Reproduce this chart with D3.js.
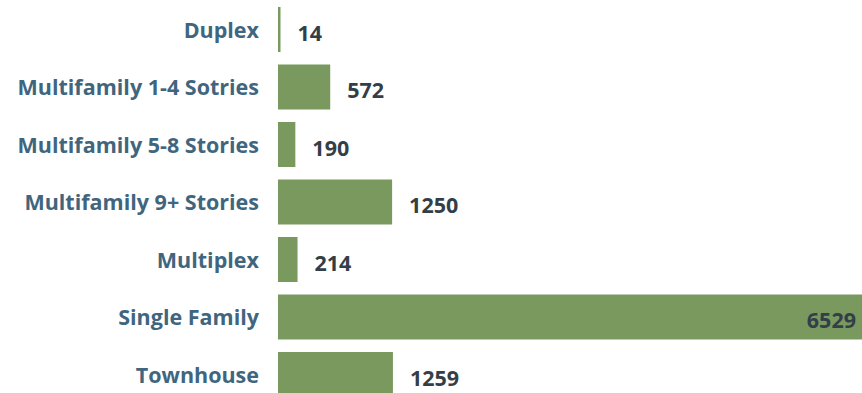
<!DOCTYPE html>
<html>
<head>
<meta charset="utf-8">
<script src="https://cdn.jsdelivr.net/npm/d3@7"></script>
<style>
  html, body { margin: 0; padding: 0; background: #ffffff; overflow: hidden; }
  svg { display: block; }
</style>
</head>
<body>
<svg id="chart" width="862" height="393"></svg>
<script>
const categories = ["Duplex", "Multifamily 1-4 Sotries", "Multifamily 5-8 Stories", "Multifamily 9+ Stories", "Multiplex", "Single Family", "Townhouse"];
const values = [14, 572, 190, 1250, 214, 6529, 1259];

const W = 862, H = 393;
const svg = d3.select("#chart");

const x = d3.scaleLinear().domain([0, 6529]).range([278, 874]);
const y = d3.scaleBand().domain(categories).range([0.75, 403.25]).paddingInner(0.2174).paddingOuter(0.1087);

const data = categories.map((c, i) => ({ c, v: values[i] }));

svg.append("g").selectAll("rect").data(data).join("rect")
  .attr("x", x(0))
  .attr("y", d => y(d.c))
  .attr("width", d => Math.max(2.5, x(d.v) - x(0)))
  .attr("height", y.bandwidth())
  .attr("fill", "#7a995f");

svg.append("g").selectAll("text").data(data).join("text")
  .attr("x", 259)
  .attr("y", d => y(d.c) + y.bandwidth() / 2 + 8)
  .attr("text-anchor", "end")
  .attr("font-family", "Open Sans, sans-serif")
  .attr("font-weight", 700)
  .attr("font-size", 21.5)
  .attr("fill", "#3f667e")
  .text(d => d.c);

svg.append("g").selectAll("text").data(data).join("text")
  .each(function(d) {
    const end = Math.max(x(d.v), x(0) + 2.5);
    const inside = end + 17 + 50 > W;
    d3.select(this)
      .attr("x", inside ? W - 6 : end + 17)
      .attr("text-anchor", inside ? "end" : "start");
  })
  .attr("y", d => y(d.c) + y.bandwidth() / 2 + 11)
  .attr("font-family", "Open Sans, sans-serif")
  .attr("font-weight", 700)
  .attr("font-size", 21.5)
  .attr("fill", "#333f48")
  .text(d => d.v);
</script>
</body>
</html>
